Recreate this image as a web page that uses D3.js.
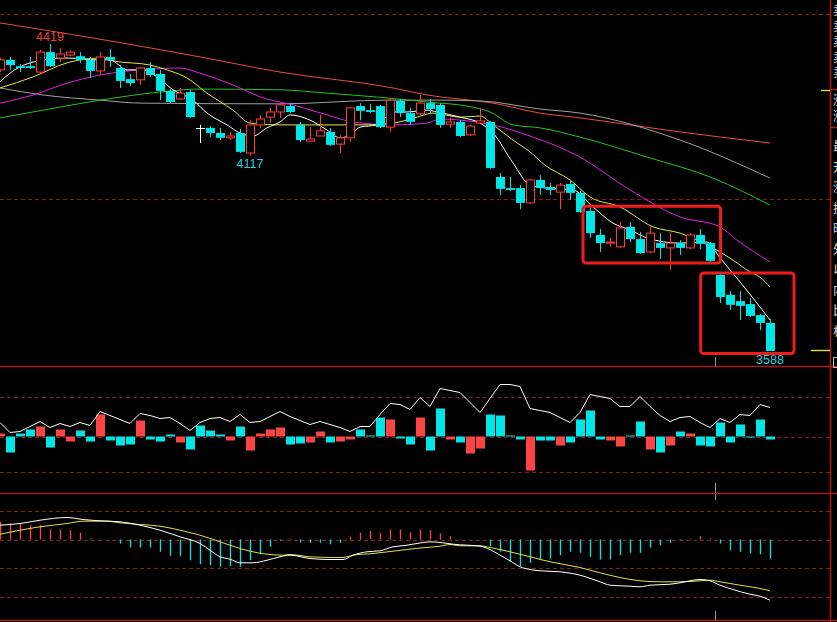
<!DOCTYPE html>
<html><head><meta charset="utf-8">
<script src="https://cdn.jsdelivr.net/npm/d3@7"></script>
<style>html,body{margin:0;padding:0;background:#000;overflow:hidden}</style>
</head><body><svg id="c" width="837" height="622"></svg>
<script>
// ---------- data ----------
const open  = [4349,4376,4359,4359,4343,4397,4381,4389,4386,4376, 4346,4384,4354,4324,4322,4354,4338,4292,4270,4289, 4192,4192,4178,4165,4178,4124,4200,4221,4235,4251, 4200,4156,4170,4181,4148,4165,4251,4240,4251,4194, 4265,4232,4230,4259,4254,4202,4208,4173,4205,4208, 4059,4029,4029,3989,4051,4032,4018,4040,4016,3967, 3902,3880,3870,3924,3891,3856,3880,3867,3880,3867, 3902,3880,3794,3740,3723,3715,3685,3664];
const high  = [4381,4384,4365,4384,4403,4419,4408,4403,4397,4384, 4397,4405,4362,4338,4357,4370,4349,4297,4300,4295, 4200,4197,4192,4181,4189,4213,4227,4246,4259,4259, 4208,4194,4227,4192,4173,4248,4259,4257,4254,4273, 4270,4246,4281,4270,4259,4219,4213,4200,4246,4211, 4070,4059,4037,4054,4064,4043,4043,4051,4021,3975, 3918,3894,3937,3937,3910,3924,3907,3907,3888,3907, 3918,3883,3799,3750,3750,3731,3688,3675];
const low   = [4343,4349,4343,4351,4340,4357,4370,4386,4368,4327, 4335,4357,4300,4305,4308,4330,4267,4259,4267,4219, 4151,4167,4159,4159,4124,4117,4192,4205,4219,4232, 4154,4156,4170,4143,4124,4154,4213,4232,4192,4181, 4221,4200,4227,4232,4192,4192,4167,4170,4205,4081, 4010,4021,3972,3986,4010,4010,3972,3997,3962,3894, 3856,3870,3867,3883,3851,3853,3837,3807,3848,3864, 3864,3829,3718,3699,3672,3680,3645,3588];
const close = [4376,4362,4354,4354,4397,4359,4392,4397,4376,4346, 4384,4376,4319,4313,4354,4335,4292,4262,4286,4221, 4192,4178,4165,4170,4127,4200,4216,4235,4254,4235, 4159,4162,4184,4146,4165,4246,4238,4235,4194,4267, 4232,4208,4259,4243,4200,4208,4170,4197,4211,4083, 4027,4024,3989,4051,4029,4024,4037,4016,3964,3907, 3880,3883,3921,3891,3853,3907,3867,3880,3867,3902, 3878,3832,3734,3713,3710,3683,3664,3588];

// moving-average lines, sampled [candle index, price]
const ma5  = [[0,4316],[1,4340],[3.3,4370],[6.7,4381],[10,4376],[11,4376],[12.7,4349],[14.3,4349],[15.7,4330],[17.3,4295],[19.3,4267],[20.7,4232],[22.7,4200],[24,4178],[25.3,4170],[26.7,4192],[28,4208],[29,4227],[31,4213],[32.7,4186],[34,4165],[35,4173],[36,4194],[37.7,4200],[39.3,4235],[40.7,4235],[42.7,4240],[43.7,4235],[46,4221],[48,4205],[49.3,4178],[51.3,4097],[53,4037],[54.7,4029],[57.3,4024],[59.3,3978],[61.3,3934],[63,3916],[64.7,3894],[68,3880],[70.7,3883],[72,3840],[74,3775],[76,3707],[77,3672]];
const ma10 = [[0,4300],[3.3,4330],[6.7,4368],[10,4381],[11.3,4373],[15,4362],[16.7,4349],[18.7,4327],[20.7,4286],[23.3,4240],[25,4205],[28,4200],[34.3,4200],[36,4200],[39.3,4205],[41.7,4221],[43.3,4232],[46,4221],[48,4224],[49.3,4200],[51.3,4159],[53,4127],[54.5,4091],[57,4051],[59,4005],[62,3978],[65.3,3924],[68,3907],[71.3,3867],[73.3,3834],[75,3802],[76,3788],[77,3761]];
const ma20 = [[0,4259],[3.3,4281],[6.7,4313],[10,4335],[14,4349],[18,4354],[20,4340],[24,4300],[26,4276],[29.3,4254],[32.7,4227],[35.3,4208],[39.3,4200],[42.7,4205],[44,4216],[46,4213],[49.3,4200],[53,4170],[58,4113],[63,4024],[68,3951],[72,3924],[73.7,3888],[77,3829]];
const ma30 = [[0,4219],[3.3,4235],[10,4267],[16,4289],[20,4297],[28,4295],[32.7,4286],[38.7,4273],[42.7,4262],[47.3,4248],[49,4235],[51.3,4200],[54,4192],[58,4167],[64.7,4113],[71.3,4056],[77,3983]];
const ma60 = [[0,4300],[4.3,4281],[10,4267],[14,4259],[28,4257],[38.7,4267],[44,4267],[48,4265],[54,4243],[58,4232],[68,4159],[77,4056]];
const ma120= [[0,4476],[10,4432],[20,4384],[28,4343],[39.3,4300],[42.7,4281],[49.3,4259],[54,4232],[58,4219],[63,4200],[68,4181],[77,4151]];

// middle indicator panel
const volBar  = [3,-16,3,7,10,-11,7,-5,6,-5, 22,-4,-9,-8,16,-3,-5,2,-6,-13, 11,6,2,-4,10,-14,3,7,9,-8, -7,-6,5,-6,-5,-3,7,1,19,17, -2,-8,19,-14,28,-3,-6,-17,-12,22, 21,1,-3,-34,-4,-4,-9,-6,17,26, -3,-4,-10,1,15,-13,-16,-9,5,3, -9,-10,14,-6,12,-1,17,-3];
const volLine = [14,4,5,10,15,9,13,10,14,11, 25,21,17,13,23,21,18,19,13,6, 14,18,19,15,22,14,15,20,25,20, 16,12,15,12,9,5,10,10,22,33, 32,27,39,30,48,46,44,34,24,38, 52,52,50,28,26,24,19,14,24,42, 40,38,30,30,40,30,21,15,19,20, 14,9,18,14,22,21,32,29];

// MACD panel
const macdHist = [17.7,16,16,14.3,14.3,10,10,9.3,6.7,1, 0.3,0,-4,-8,-8,-8,-12.3,-16.3,-16.7,-20.7, -24.7,-25.7,-27.3,-26.7,-27.3,-20.7,-14.7,-7.3,-1.3,1, -3,-3.3,-3.3,-4.7,-3.3,2.7,6.7,8.7,6.7,10, 10,7.3,10,9.3,6,3.3,0.7,0.3,0,-6.7, -12.3,-22.3,-26.7,-23.3,-20.7,-19,-15.7,-12.3,-13.3,-17.3, -20,-20,-15.7,-13.3,-13.3,-8,-5.7,-3.3,-0.7,1, 3.3,1,-4,-10.7,-12.3,-14,-14.7,-19];
const dif = [[0,14.3],[2,16],[4,19.3],[6.7,22],[8.3,20],[10,18.7],[12,17.7],[14,14.3],[16,9.3],[18,2.7],[20,-4],[21,-10.7],[22,-17.3],[23,-19.7],[24,-23.3],[25.3,-23.3],[26.7,-20.7],[28,-17.3],[29,-15.7],[31,-19],[33,-20],[34.3,-20],[35.3,-15.7],[36.7,-12.3],[38,-11.3],[39.3,-7.3],[40.5,-6],[42,-3.5],[43,-2.3],[44.3,-3.3],[45.3,-4.7],[48,-6.7],[49,-10],[50,-15.7],[51,-21.3],[52,-27.3],[53,-30],[54,-31.3],[56,-32.3],[58,-35.7],[60,-42.3],[61,-45.7],[63,-46.7],[64,-47.3],[65,-45.7],[67,-44.7],[68,-43.3],[69,-41.3],[70,-40],[71,-41.3],[72,-45.7],[73.3,-50],[75,-54.7],[76,-56.7],[77,-60.7]];
const dea = [[0,5.3],[2,9.3],[4,12.7],[6.7,16],[8.3,18.3],[10.7,18.3],[12,16.7],[14,15],[16,13.3],[18,9.3],[20,4.3],[22,-2.3],[24,-9],[25,-11.7],[26.7,-14.7],[28.3,-15.7],[29,-15],[31,-17.3],[33.3,-18],[34.3,-18],[35.3,-15.7],[37.3,-14],[39.3,-11.7],[42,-8.5],[44,-6.7],[45,-5],[46,-6.3],[48,-6.3],[49,-8],[51,-12.3],[53,-17.3],[55,-22.3],[58,-28],[60,-33.3],[62,-38],[64,-41.3],[66,-42.3],[68,-42.3],[70,-41.3],[71,-40.7],[72,-42.3],[74,-45.7],[76,-49],[77,-51.3]];

// grid levels
const priceGrid = [4500, 4000];
const volGrid   = [40, 0, -36];
const macdGrid  = [28.5, 0, -28.5, -57.5];

// annotations
const priceMarks = [{i:5, v:4419, text:"4419", kind:"high"}, {i:25, v:4117, text:"4117", kind:"low"}, {i:77, v:3588, text:"3588", kind:"low"}];
const boxes = [{i0:58.3, i1:72.05, p0:3980, p1:3826}, {i1:79.4, i0:70.07, p0:3799, p1:3581}];
const sideGroup1 = ["卖","卖","卖","卖","卖"];
const sideGroup2 = ["涨","涨"];
const sideGroup3 = ["最","开","涨","换","昨","外","以","内","比","相"];

// ---------- drawing ----------
const W = 837, H = 622;
const RED = "#ff3c3c", CYAN = "#00e6e6", GRIDC = "#8a1c1c", FRAME = "#a81c1c";
const svg = d3.select("#c");
svg.append("rect").attr("width", W).attr("height", H).attr("fill", "#000");

const x  = d3.scaleLinear().domain([0, 77]).range([0, 770]);
const y  = d3.scaleLinear().domain([3588, 4419]).range([351, 44]);
const yv = d3.scaleLinear().domain([0, 40]).range([436.5, 396.5]);
const ym = d3.scaleLinear().domain([0, 28.5]).range([539.5, 511]);

const gGrid = svg.append("g");
function dashed(yy) {
  gGrid.append("line").attr("x1", 0).attr("x2", 830).attr("y1", Math.round(yy) + 0.5).attr("y2", Math.round(yy) + 0.5)
    .attr("stroke", GRIDC).attr("stroke-width", 1).attr("stroke-dasharray", "4,3");
}
priceGrid.forEach(v => dashed(y(v)));
volGrid.forEach(v => dashed(yv(v)));
macdGrid.forEach(v => dashed(ym(v)));

// frames
const fr = svg.append("g");
[366.5, 493.5, 620.5].forEach(yy => fr.append("line").attr("x1", 0).attr("x2", W).attr("y1", yy).attr("y2", yy).attr("stroke", FRAME).attr("stroke-width", 1.6));
fr.append("line").attr("x1", 830.5).attr("x2", 830.5).attr("y1", 0).attr("y2", H).attr("stroke", FRAME).attr("stroke-width", 1.6);
[89.5, 127.5].forEach(yy => fr.append("line").attr("x1", 830).attr("x2", W).attr("y1", yy).attr("y2", yy).attr("stroke", FRAME).attr("stroke-width", 1.4));

// MA lines
const line = d3.line().x(d => x(d[0])).y(d => y(d[1])).curve(d3.curveMonotoneX);
const gMA = svg.append("g").attr("fill", "none").attr("stroke-width", 1);
[[ma120, "#e84a4a"], [ma60, "#a0a0a0"], [ma30, "#22c322"], [ma20, "#e020e0"], [ma10, "#e6e640"], [ma5, "#ffffff"]]
  .forEach(([d, c]) => gMA.append("path").attr("d", line(d)).attr("stroke", c));

// candles
const gC = svg.append("g");
open.forEach((o, i) => {
  const c = close[i], h = high[i], l = low[i];
  const X = Math.round(x(i));
  if (c > o) {
    gC.append("line").attr("x1", X + 0.5).attr("x2", X + 0.5).attr("y1", y(h)).attr("y2", y(c)).attr("stroke", RED);
    gC.append("line").attr("x1", X + 0.5).attr("x2", X + 0.5).attr("y1", y(o)).attr("y2", y(l)).attr("stroke", RED);
    gC.append("rect").attr("x", X - 3.5).attr("width", 8).attr("y", y(c)).attr("height", Math.max(1, y(o) - y(c)))
      .attr("fill", "#000").attr("stroke", RED).attr("stroke-width", 1);
  } else if (c < o) {
    gC.append("line").attr("x1", X + 0.5).attr("x2", X + 0.5).attr("y1", y(h)).attr("y2", y(l)).attr("stroke", CYAN);
    gC.append("rect").attr("x", X - 4).attr("width", 9).attr("y", y(o)).attr("height", Math.max(1, y(c) - y(o))).attr("fill", CYAN);
  } else {
    gC.append("line").attr("x1", X + 0.5).attr("x2", X + 0.5).attr("y1", y(h)).attr("y2", y(l)).attr("stroke", "#fff");
    gC.append("line").attr("x1", X - 4).attr("x2", X + 5).attr("y1", Math.round(y(o)) + 0.5).attr("y2", Math.round(y(o)) + 0.5).attr("stroke", "#fff");
  }
});

// price annotations
priceMarks.forEach(m => {
  const isHigh = m.kind === "high";
  svg.append("text").attr("x", x(m.i)).attr("y", isHigh ? y(m.v) - 3 : y(m.v) + 12.5)
    .attr("text-anchor", "middle").attr("font-family", "Liberation Sans, Arial, sans-serif").attr("font-size", 12.5)
    .attr("fill", isHigh ? "#e84040" : "#30d0d8").text(m.text);
});

// highlight boxes
boxes.forEach(b => {
  svg.append("rect").attr("x", x(b.i0)).attr("y", y(b.p0)).attr("width", x(b.i1) - x(b.i0)).attr("height", y(b.p1) - y(b.p0))
    .attr("rx", 3).attr("fill", "none").attr("stroke", "#f01c1c").attr("stroke-width", 3);
});

// indicator bars
const gV = svg.append("g");
volBar.forEach((v, i) => {
  const X = Math.round(x(i));
  const up = close[i] > open[i];
  gV.append("rect").attr("x", X - 4).attr("width", 9).attr("y", yv(Math.max(v, 0))).attr("height", Math.max(1, Math.abs(yv(v) - yv(0))))
    .attr("fill", up ? "#ff4444" : CYAN);
});
const vline = d3.line().x((d, i) => x(i)).y(d => yv(d));
svg.append("path").attr("d", vline(volLine)).attr("fill", "none").attr("stroke", "#fff").attr("stroke-width", 1);

// MACD
const gM = svg.append("g");
macdHist.forEach((v, i) => {
  if (v === 0) return;
  const X = Math.round(x(i)) + 0.5;
  gM.append("line").attr("x1", X).attr("x2", X).attr("y1", ym(0)).attr("y2", ym(v))
    .attr("stroke", v > 0 ? "#f04848" : "#22d6d6").attr("stroke-width", 1.4);
});
const mline = d3.line().x(d => x(d[0])).y(d => ym(d[1])).curve(d3.curveMonotoneX);
svg.append("path").attr("d", mline(dea)).attr("fill", "none").attr("stroke", "#e0e048").attr("stroke-width", 1);
svg.append("path").attr("d", mline(dif)).attr("fill", "none").attr("stroke", "#ffffff").attr("stroke-width", 1);

// cursor ticks
[[357, 366], [483, 493], [494, 500], [611, 620]].forEach(([a, b]) =>
  svg.append("line").attr("x1", 715.5).attr("x2", 715.5).attr("y1", a).attr("y2", b).attr("stroke", "#9a9a9a"));

// right-side level markers
[[821, 90.5], [811, 350.5]].forEach(([x0, yy]) =>
  svg.append("line").attr("x1", x0).attr("x2", 830).attr("y1", yy).attr("y2", yy).attr("stroke", "#e0e040").attr("stroke-width", 1.4));

// right-side info column (cut off by the window edge, as in the reference)
const tf = "Noto Sans CJK SC, sans-serif";
const side = svg.append("g").attr("font-family", tf).attr("font-size", 12.5).attr("fill", "#d8d8d8");
sideGroup1.forEach((t, k) => side.append("text").attr("x", 833).attr("y", 15 + 15.5 * k).text(t));
sideGroup2.forEach((t, k) => side.append("text").attr("x", 833).attr("y", 105 + 15.5 * k).text(t));
sideGroup3.forEach((t, k) => side.append("text").attr("x", 833).attr("y", 151 + 20.5 * k).text(t));
svg.append("rect").attr("x", 833.5).attr("y", 357.5).attr("width", 6).attr("height", 10).attr("fill", "none").attr("stroke", "#bbb");
</script></body></html>
